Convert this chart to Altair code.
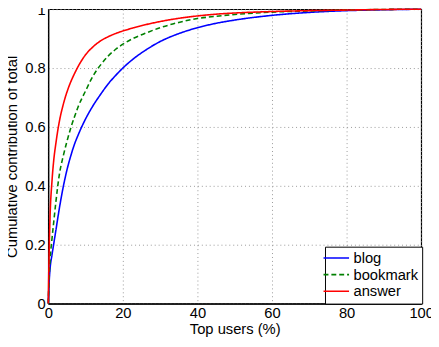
import altair as alt
import pandas as pd

x_vals = [0, 0.25, 0.5, 1, 1.5, 2, 3, 4, 5, 6, 7, 8, 10, 12, 14, 16, 18, 20, 23, 26, 30, 35, 40, 45, 50, 60, 70, 80, 90, 100]
blog = [0, 0.075, 0.12, 0.165, 0.205, 0.245, 0.325, 0.395, 0.453, 0.50, 0.54, 0.572, 0.627, 0.672, 0.71, 0.745, 0.774, 0.80,
        0.833, 0.86, 0.89, 0.917, 0.937, 0.952, 0.963, 0.979, 0.989, 0.995, 0.998, 1.0]
bookmark = [0, 0.09, 0.15, 0.22, 0.28, 0.34, 0.44, 0.50, 0.55, 0.595, 0.633, 0.668, 0.722, 0.773, 0.81, 0.84, 0.863, 0.881,
            0.902, 0.918, 0.937, 0.955, 0.968, 0.976, 0.982, 0.99, 0.994, 0.997, 0.999, 1.0]
answer = [0, 0.18, 0.30, 0.415, 0.49, 0.54, 0.62, 0.675, 0.718, 0.752, 0.78, 0.805, 0.845, 0.872, 0.892, 0.906, 0.917, 0.926,
          0.937, 0.947, 0.958, 0.969, 0.977, 0.983, 0.987, 0.992, 0.995, 0.997, 0.999, 1.0]

series = ["blog", "bookmark", "answer"]
colors = ["#0000ff", "#008000", "#ff0000"]
dashes = [[1, 0], [5, 3], [1, 0]]

rows = []
for name, vals in zip(series, [blog, bookmark, answer]):
    for xv, yv in zip(x_vals, vals):
        rows.append({"x": xv, "y": yv, "series": name})
df = pd.DataFrame(rows)

font = "Liberation Sans"

chart = alt.Chart(df).mark_line(strokeWidth=1.6, interpolate="monotone").encode(
    x=alt.X("x:Q", scale=alt.Scale(domain=[0, 100], nice=False),
            axis=alt.Axis(title="Top users (%)", values=[0, 20, 40, 60, 80, 100],
                          labelFlush=False, titlePadding=1, labelPadding=2)),
    y=alt.Y("y:Q", scale=alt.Scale(domain=[0, 1], nice=False),
            axis=alt.Axis(title="Cumulative contribution of total",
                          values=[0, 0.2, 0.4, 0.6, 0.8, 1], labelExpr="format(datum.value, '~g')",
                          labelFlush=False, titlePadding=5, labelPadding=3)),
    color=alt.Color("series:N", scale=alt.Scale(domain=series, range=colors),
                    legend=alt.Legend(title=None, orient="none", legendX=282, legendY=242,
                                      strokeColor="black", fillColor="white", padding=4,
                                      symbolType="M-2,0H2", symbolSize=169, symbolStrokeWidth=1.6,
                                      symbolFillColor="transparent",
                                      labelFontSize=15, labelFont=font, labelColor="black", rowPadding=1,
                                      symbolOffset=0, labelOffset=10, cornerRadius=0)),
    strokeDash=alt.StrokeDash("series:N", scale=alt.Scale(domain=series, range=dashes), legend=None),
    order=alt.Order("x:Q"),
).properties(
    width=380, height=300,
    autosize=alt.AutoSizeParams(type="none"),
    padding={"left": 41, "top": -2, "right": 10, "bottom": 40},
).configure_view(
    stroke="black", strokeWidth=1.2
).configure_axis(
    domainColor="black", domainWidth=1.2, ticks=False,
    gridColor="#999999", gridDash=[1, 3], gridWidth=1,
    labelFont=font, labelFontSize=15, labelColor="black",
    titleFont=font, titleFontSize=15, titleFontWeight="normal", titleColor="black",
)

chart.save("out.html", embed_options={"renderer": "svg", "actions": False})
